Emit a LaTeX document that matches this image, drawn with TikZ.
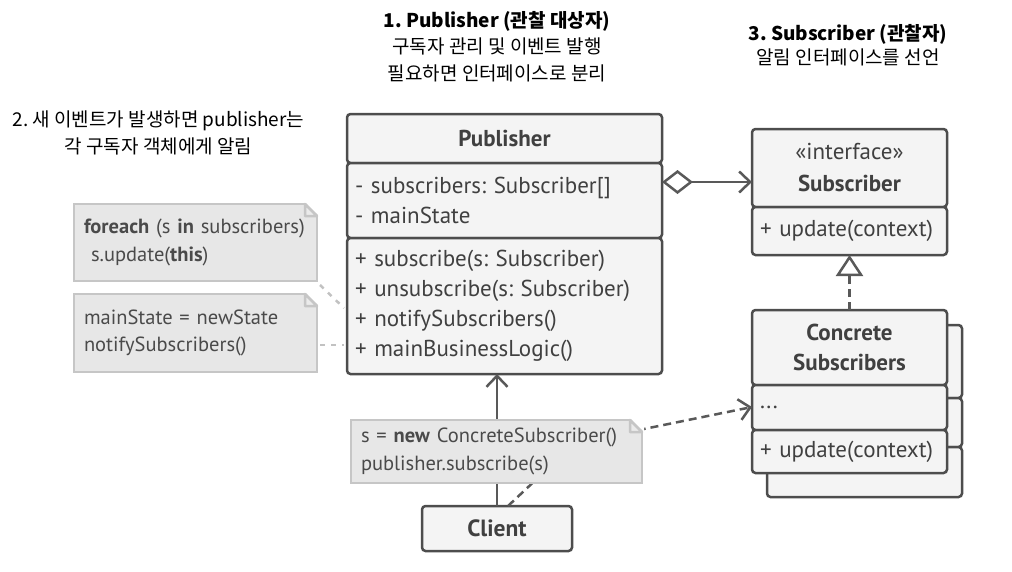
\documentclass[tikz,border=0pt]{standalone}
\usepackage{fontspec}
\setmainfont{PT Sans}
\newfontfamily\krfont{Noto Sans CJK KR}
\usetikzlibrary{arrows.meta,calc}

\definecolor{boxline}{HTML}{4D4D4D}
\definecolor{boxfill}{HTML}{F4F4F4}
\definecolor{boxtext}{HTML}{404040}
\definecolor{notefill}{HTML}{E7E7E7}
\definecolor{noteline}{HTML}{C6C6C6}
\definecolor{notetext}{HTML}{4A4A4A}
\definecolor{wire}{HTML}{595959}
\definecolor{notewire}{HTML}{C2C2C2}

\tikzset{
  cmp/.style={draw=boxline, fill=boxfill, line width=2.5pt, rounded corners=3.5pt,
    anchor=north west, outer sep=0pt, inner xsep=8pt, inner ysep=0pt,
    text=boxtext, font=\fontsize{23}{30}\selectfont},
  cmpleft/.style={cmp, align=left},
  cmpmid/.style={cmp, align=center},
  notebox/.style={draw=noteline, fill=notefill, line width=2.5pt, anchor=north west,
    outer sep=0pt, inner xsep=10pt, inner ysep=0pt, align=left, text=notetext,
    font=\fontsize{20.5}{27.5}\selectfont},
  conn/.style={draw=wire, line width=2.5pt},
  dashconn/.style={conn, dash pattern=on 8pt off 5pt},
  notelink/.style={draw=notewire, line width=2.5pt, dash pattern=on 5pt off 6pt},
  openhead/.style={-{Straight Barb[length=11pt,width=21pt]}},
  caption/.style={align=center, text=black, font=\krfont\fontsize{19}{26.5}\selectfont}
}

% folded corner of a note node
\newcommand\notefold[1]{%
  \fill[white] ($(#1.north east)+(-12,-2)$) -- ($(#1.north east)+(2,-2)$)
    -- ($(#1.north east)+(2,12)$) -- cycle;
  \filldraw[draw=noteline, fill=notefill!85!white, line width=2.5pt, line join=round]
    ($(#1.north east)+(-12,0)$) -- ($(#1.north east)+(0,12)$)
    -- ($(#1.north east)+(-12,12)$) -- cycle;
}

\begin{document}
\frenchspacing
\begin{tikzpicture}[x=1pt,y=-1pt]
\useasboundingbox (0,0) rectangle (1012,571);

% captions
\node[caption] (cap1) at (497,46.5) {{\bfseries 1. Publisher (관찰 대상자)}\\구독자 관리 및 이벤트 발행\\필요하면 인터페이스로 분리};
\node[caption] (cap2) at (158.5,133) {2. 새 이벤트가 발생하면 publisher는\\각 구독자 객체에게 알림};
\node[caption, font=\krfont\fontsize{19}{24}\selectfont] (cap3) at (848,45) {{\bfseries 3. Subscriber (관찰자)}\\알림 인터페이스를 선언};

% Publisher class
\node[cmpmid, minimum width=315pt, text width=299pt, minimum height=49pt] (pubhead) at (347,114) {\bfseries Publisher};
\node[cmpleft, minimum width=315pt, text width=299pt, minimum height=75pt] (pubattr) at (347,163) {- subscribers: Subscriber[]\\- mainState};
\node[cmpleft, minimum width=315pt, text width=299pt, minimum height=136pt] (pubmeth) at (347,238) {+ subscribe(s: Subscriber)\\+ unsubscribe(s: Subscriber)\\+ notifySubscribers()\\+ mainBusinessLogic()};

% Subscriber interface
\node[cmpmid, minimum width=195pt, text width=179pt, minimum height=78pt, font=\fontsize{23}{32}\selectfont] (ifhead) at (752,129) {«interface»\\\bfseries Subscriber};
\node[cmpleft, minimum width=195pt, text width=179pt, minimum height=48pt] (ifmeth) at (752,207) {+ update(context)};

% Concrete subscribers: a stacked copy behind, then the front class
\node[cmp, minimum width=195pt, minimum height=73pt] (backhead) at (767,325) {};
\node[cmp, minimum width=195pt, minimum height=49pt] (backattr) at (767,398) {};
\node[cmp, minimum width=195pt, minimum height=50pt] (backmeth) at (767,447) {};
\node[cmpmid, minimum width=195pt, text width=179pt, minimum height=75pt] (conhead) at (752,310) {\bfseries Concrete\\\bfseries Subscribers};
\node[cmpleft, minimum width=195pt, text width=179pt, minimum height=45pt] (conattr) at (752,385) {...};
\node[cmpleft, minimum width=195pt, text width=179pt, minimum height=43pt] (conmeth) at (752,430) {+ update(context)};

% Client
\node[cmpmid, minimum width=150pt, text width=134pt, minimum height=45pt, font=\fontsize{23.5}{28}\selectfont\bfseries] (client) at (422,506) {Client};

% relations
\coordinate (aggy) at (0,182);
\draw[conn, {Diamond[open,length=31pt,width=24pt,fill=white]}-{Straight Barb[length=11pt,width=21pt]}]
  (pubattr.east |- aggy) -- (ifhead.west |- aggy);
\draw[dashconn, -{Triangle[open,length=21pt,width=27pt,fill=white,line width=2.5pt]}]
  (conhead.north) -- (ifmeth.south);
\draw[conn, openhead] (client.north) -- (client.north |- pubmeth.south);
\coordinate (bend) at (575,443);
\coordinate (cony) at (0,407);
\draw[dashconn, openhead] ($(client.north)+(11,0)$) -- (bend) -- (conattr.west |- cony);

% notes and their links
\node[notebox, minimum width=243pt, text width=223pt, minimum height=77pt] (note1) at (74,204)
  {\mbox{\textbf{foreach} (s \textbf{in} subscribers)}\\\mbox{\hspace*{7pt}s.update(\textbf{this})}};
\node[notebox, minimum width=243pt, text width=223pt, minimum height=78pt] (note2) at (74,294)
  {\mbox{mainState = newState}\\\mbox{notifySubscribers()}};
\coordinate (n2y) at (0,345);
\draw[notelink] ($(note1.south east)+(3,4)$) -- ($(pubmeth.west)+(-3,2)$);
\draw[notelink] ($(note2.east |- n2y)+(3,0)$) -- ($(pubmeth.west |- n2y)+(-3,0)$);
\notefold{note1}
\notefold{note2}

\node[notebox, minimum width=291pt, text width=271pt, minimum height=63pt] (note3) at (351,420)
  {\mbox{s = \textbf{new} ConcreteSubscriber()}\\\mbox{publisher.subscribe(s)}};
\notefold{note3}

\end{tikzpicture}
\end{document}
